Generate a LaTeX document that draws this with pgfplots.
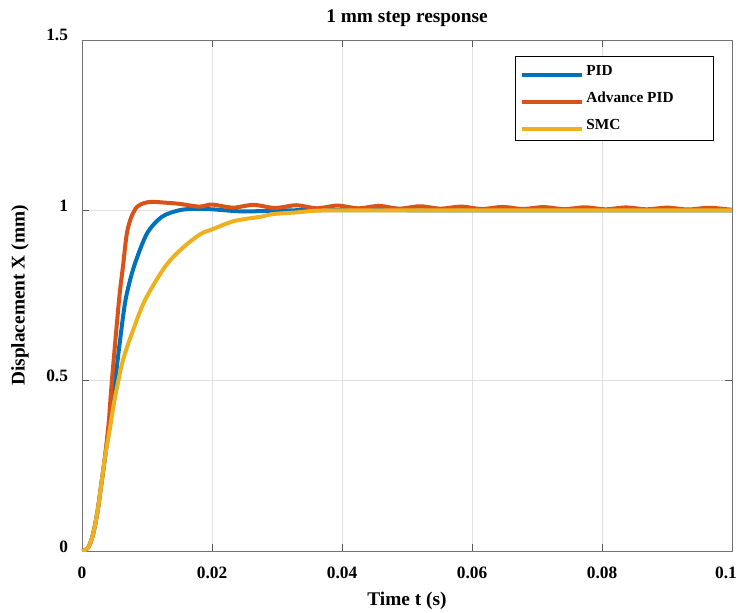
\documentclass[border=0pt]{standalone}
\usepackage{fontspec}
\setmainfont{Liberation Serif}
\usepackage{pgfplots}
\pgfplotsset{compat=1.18}
\definecolor{mblue}{HTML}{0072BD}
\definecolor{morange}{HTML}{D95319}
\definecolor{myellow}{HTML}{EDB120}
\begin{document}
\begin{tikzpicture}
\path[use as bounding box] (-61.5pt,-45.75pt) rectangle (492pt,413.25pt);
\begin{axis}[
  at={(0pt,0pt)}, anchor=south west,
  scale only axis, width=487.5pt, height=383.25pt,
  xmin=0, xmax=0.1, ymin=0, ymax=1.5,
  xtick={0,0.02,0.04,0.06,0.08,0.1},
  xticklabels={0,0.02,0.04,0.06,0.08,\hspace*{-9pt}0.1},
  ytick={0,0.5,1,1.5},
  yticklabels={0,0.5,1,1.5},
  scaled x ticks=false, scaled y ticks=false,
  tick align=inside, major tick length=5pt,
  tick style={black!65, line width=0.6pt},
  axis line style={black!55, line width=0.7pt},
  grid=major, grid style={black!12, line width=0.6pt},
  tick label style={font=\fontsize{13}{15}\selectfont\bfseries},
  xticklabel style={yshift=-8.5pt},
  yticklabel style={xshift=-7pt, yshift=3.5pt},
  label style={font=\fontsize{14.5}{17}\selectfont\bfseries},
  xlabel={Time t (s)},
  ylabel={Displacement X (mm)},
  xlabel style={at={(axis description cs:0.5,0)}, anchor=center, yshift=-37.5pt},
  ylabel style={at={(axis description cs:0,0.5)}, anchor=center, yshift=46.5pt},
  title={1 mm step response},
  title style={font=\fontsize{14.5}{17}\selectfont\bfseries, at={(axis description cs:0.5,1)}, anchor=center, yshift=10pt},
  legend style={at={(axis description cs:1,1)}, anchor=north east, xshift=-13.5pt, yshift=-12pt,
    draw=black, line width=0.6pt, font=\fontsize{11.5}{13}\selectfont\bfseries,
    inner xsep=3pt, inner ysep=4.5pt, row sep=7pt, cells={anchor=west}},
  legend image code/.code={\draw[#1] (0pt,-3pt) -- (45pt,-3pt);},
  every axis plot/.append style={line width=3pt, line join=round},
]
\addplot[mblue, smooth] coordinates {
(0,0) (0.0005,0.003) (0.001,0.012) (0.0015,0.035) (0.002,0.075) (0.0025,0.13)
(0.003,0.2) (0.0035,0.27) (0.0042,0.37) (0.0051,0.5) (0.0058,0.61) (0.0067,0.737)
(0.008,0.835) (0.01,0.932) (0.0123,0.981) (0.0149,1.0) (0.017,1.004)
(0.02,1.003) (0.0243,0.997) (0.028,0.998)
(0.031,1.0) (0.04,1.0005) (0.06,1.0) (0.08,1.0) (0.1,1.0)
};
\addplot[morange, smooth] coordinates {
(0,0) (0.0005,0.003) (0.001,0.012) (0.0015,0.035) (0.002,0.075) (0.0025,0.13)
(0.003,0.2) (0.0035,0.27) (0.0041,0.375) (0.0046,0.5) (0.0057,0.737) (0.0063,0.835)
(0.0069,0.932) (0.0076,0.981) (0.0085,1.011) (0.0097,1.022) (0.0108,1.025)
(0.0125,1.023) (0.015,1.019) (0.018,1.011) (0.020,1.017) (0.0232,1.008)
(0.0264,1.016) (0.0297,1.007) (0.033,1.015) (0.0361,1.006) (0.0393,1.014)
(0.0425,1.006) (0.0457,1.013) (0.0488,1.005) (0.052,1.012) (0.0552,1.005)
(0.0583,1.011) (0.0615,1.004) (0.0647,1.010) (0.0678,1.004) (0.071,1.0095)
(0.0742,1.0035) (0.0774,1.009) (0.0805,1.003) (0.0837,1.0085) (0.0869,1.003)
(0.09,1.008) (0.0932,1.0025) (0.0964,1.0075) (0.0996,1.0025) (0.1,1.0026)
};
\addplot[myellow, smooth] coordinates {
(0,0) (0.0005,0.003) (0.001,0.012) (0.0015,0.035) (0.002,0.075) (0.0025,0.13)
(0.003,0.2) (0.0035,0.27) (0.0043,0.36) (0.0051,0.453) (0.0063,0.56) (0.0078,0.645)
(0.0097,0.737) (0.0128,0.835) (0.0155,0.89) (0.0182,0.93)
(0.02,0.944) (0.0231,0.967) (0.0256,0.976) (0.0275,0.981) (0.0294,0.989)
(0.033,0.994) (0.0361,0.999) (0.04,1.0) (0.05,1.0) (0.07,1.0) (0.1,1.0)
};
\legend{PID,Advance PID\hspace*{25pt},SMC}
\end{axis}
\end{tikzpicture}
\end{document}
